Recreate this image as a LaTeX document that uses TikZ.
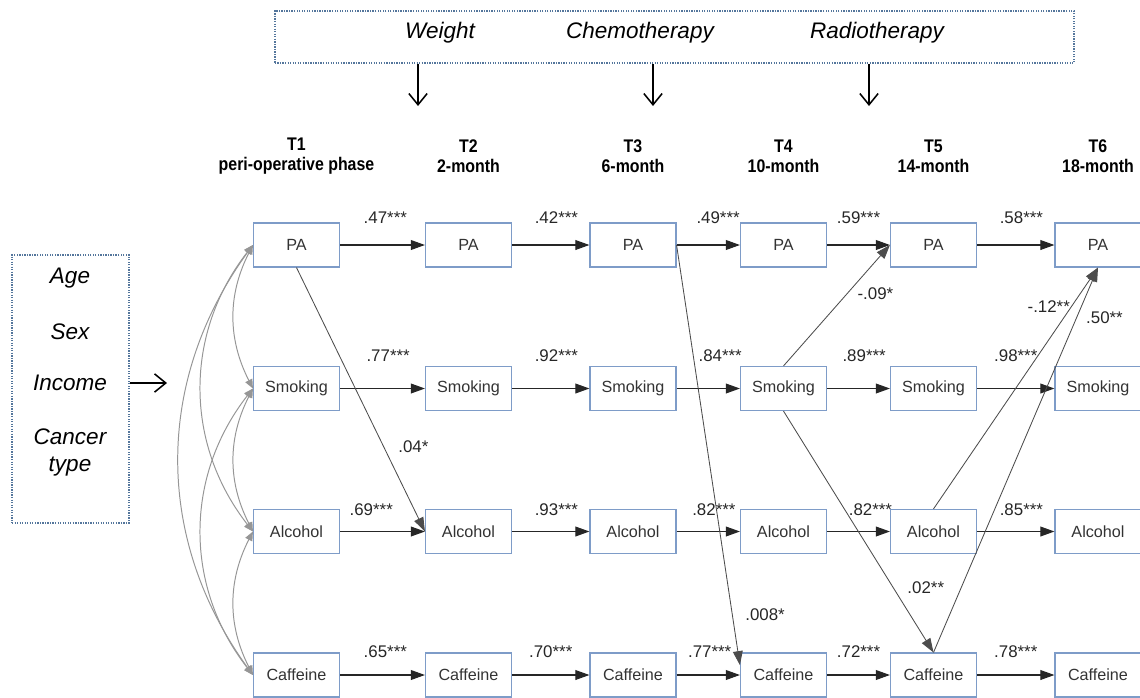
\documentclass[tikz,border=0pt]{standalone}
\usepackage{fontspec}
\setmainfont{Liberation Sans}
\newfontfamily\hdrfont[FakeStretch=0.87]{Liberation Sans}
\usetikzlibrary{arrows.meta}
\definecolor{boxblue}{RGB}{126,156,200}
\definecolor{dotblue}{RGB}{84,118,156}
\definecolor{covgray}{RGB}{150,150,150}

\begin{document}
\begin{tikzpicture}[x=0.025cm,y=0.025cm,every node/.style={font=\fontsize{11.5}{13}\selectfont},
var/.style={draw=boxblue,line width=0.8pt,minimum width=2.15cm,minimum height=1.1cm,inner sep=0pt,text=black!80},
hdr/.style={font=\hdrfont\bfseries\fontsize{13}{14.2}\selectfont,align=center,inner sep=0pt},
cov/.style={font=\itshape\fontsize{16}{18}\selectfont,inner sep=0pt},
dotbox/.style={draw=dotblue,line width=0.9pt,dash pattern=on 0.9pt off 0.9pt,inner sep=0pt},
lbl/.style={font=\fontsize{12}{14}\selectfont,inner sep=1pt,text=black!85},
reg/.style={draw=black!85,line width=0.75pt,-{Triangle[length=10pt,width=7pt]}},
xreg/.style={draw=black!70,line width=0.6pt,-{Triangle[length=10pt,width=7pt]}},
corr/.style={draw=covgray,line width=0.7pt,{Triangle[length=6.5pt,width=5.5pt]}-{Triangle[length=6.5pt,width=5.5pt]}},
effect/.style={draw=black,line width=1.1pt,-{Straight Barb[length=8pt,width=13pt]}}]
\useasboundingbox (0,0) rectangle (1140,-698);

% time-varying covariates
\node[dotbox,minimum width=19.975cm,minimum height=1.3cm] (timebox) at (674.5,-37) {};
\node[cov] (wt) at (440,-33) {Weight};
\node[cov] (chemo) at (640,-33) {Chemotherapy};
\node[cov] (radio) at (877,-33) {Radiotherapy};
\coordinate (wtend) at (418,-106);
\coordinate (chemoend) at (653,-106);
\coordinate (radioend) at (869,-106);
\draw[effect] (wtend |- timebox.south) -- (wtend);
\draw[effect] (chemoend |- timebox.south) -- (chemoend);
\draw[effect] (radioend |- timebox.south) -- (radioend);

% baseline covariates
\node[dotbox,minimum width=2.925cm,minimum height=6.7cm] (ctrlbox) at (70.5,-389) {};
\node[cov] (age) at (70,-278) {Age};
\node[cov] (sex) at (70,-332) {Sex};
\node[cov] (inc) at (70,-383) {Income};
\node[cov] (canc) at (70,-437) {Cancer};
\node[cov] (typ) at (70,-467) {type};
\coordinate (ctrlend) at (167,-383);
\draw[effect] (ctrlbox.east |- ctrlend) -- (ctrlend);

% waves
\node[hdr] (h1) at (296.5,-156) {T1\\peri-operative phase};
\node[hdr] (h2) at (468.5,-156) {T2\\2-month};
\node[hdr] (h3) at (633,-156) {T3\\6-month};
\node[hdr] (h4) at (783.5,-156) {T4\\10-month};
\node[hdr] (h5) at (933.5,-156) {T5\\14-month};
\node[hdr] (h6) at (1098,-156) {T6\\18-month};

% behaviours
\node[var] (pa1) at (296.5,-245) {PA};
\node[var] (pa2) at (468.5,-245) {PA};
\node[var] (pa3) at (633,-245) {PA};
\node[var] (pa4) at (783.5,-245) {PA};
\node[var] (pa5) at (933.5,-245) {PA};
\node[var] (pa6) at (1098,-245) {PA};

\node[var] (sm1) at (296.5,-388.5) {Smoking};
\node[var] (sm2) at (468.5,-388.5) {Smoking};
\node[var] (sm3) at (633,-388.5) {Smoking};
\node[var] (sm4) at (783.5,-388.5) {Smoking};
\node[var] (sm5) at (933.5,-388.5) {Smoking};
\node[var] (sm6) at (1098,-388.5) {Smoking};

\node[var] (al1) at (296.5,-531.5) {Alcohol};
\node[var] (al2) at (468.5,-531.5) {Alcohol};
\node[var] (al3) at (633,-531.5) {Alcohol};
\node[var] (al4) at (783.5,-531.5) {Alcohol};
\node[var] (al5) at (933.5,-531.5) {Alcohol};
\node[var] (al6) at (1098,-531.5) {Alcohol};

\node[var] (cf1) at (296.5,-675) {Caffeine};
\node[var] (cf2) at (468.5,-675) {Caffeine};
\node[var] (cf3) at (633,-675) {Caffeine};
\node[var] (cf4) at (783.5,-675) {Caffeine};
\node[var] (cf5) at (933.5,-675) {Caffeine};
\node[var] (cf6) at (1098,-675) {Caffeine};

% stability paths
\draw[reg] (pa1) -- node[lbl,above=14pt,xshift=2pt] {.47***} (pa2);
\draw[reg] (pa2) -- node[lbl,above=14pt,xshift=4pt] {.42***} (pa3);
\draw[reg] (pa3) -- node[lbl,above=14pt,xshift=7pt] {.49***} (pa4);
\draw[reg] (pa4) -- node[lbl,above=14pt] {.59***} (pa5);
\draw[reg] (pa5) -- node[lbl,above=14pt,xshift=4pt] {.58***} (pa6);

\draw[reg] (sm1) -- node[lbl,above=18pt,xshift=4pt] {.77***} (sm2);
\draw[reg] (sm2) -- node[lbl,above=18pt,xshift=4pt] {.92***} (sm3);
\draw[reg] (sm3) -- node[lbl,above=18pt,xshift=8.5pt] {.84***} (sm4);
\draw[reg] (sm4) -- node[lbl,above=18pt,xshift=4pt] {.89***} (sm5);
\draw[reg] (sm5) -- node[lbl,above=18pt] {.98***} (sm6);

\draw[reg] (al1) -- node[lbl,above=10pt,xshift=-8pt] {.69***} (al2);
\draw[reg] (al2) -- node[lbl,above=10pt,xshift=4pt] {.93***} (al3);
\draw[reg] (al3) -- node[lbl,above=10pt,xshift=4pt] {.82***} (al4);
\draw[reg] (al4) -- node[lbl,above=10pt,xshift=8.5pt] {.82***} (al5);
\draw[reg] (al5) -- node[lbl,above=10pt,xshift=4pt] {.85***} (al6);

\draw[reg] (cf1) -- node[lbl,above=11pt,xshift=2pt] {.65***} (cf2);
\draw[reg] (cf2) -- node[lbl,above=11pt] {.70***} (cf3);
\draw[reg] (cf3) -- node[lbl,above=11pt,xshift=1pt] {.77***} (cf4);
\draw[reg] (cf4) -- node[lbl,above=11pt] {.72***} (cf5);
\draw[reg] (cf5) -- node[lbl,above=11pt] {.78***} (cf6);

% cross-lagged paths
\draw[xreg] (pa1.south) -- node[lbl,pos=0.68,right=9pt] {.04*} (al2.west);
\draw[xreg] (pa3.east) -- node[lbl,pos=0.88,right=8pt] {.008*} ([yshift=7pt]cf4.west);
\draw[xreg] (sm4.north) -- node[lbl,pos=0.6,right=6pt] {-.09*} (pa5.west);
\draw[xreg] (sm4.south) -- node[lbl,pos=0.73,right=9pt] {.02**} (cf5.north);
\draw[xreg] (al5.north) -- node[lbl,pos=0.84,left=0pt] {-.12**} (pa6.south);
\draw[xreg] (cf5.north) -- node[lbl,pos=0.87,right=5.5pt] {.50**} (pa6.south);

% correlations at T1
\draw[corr] (pa1.west) to[bend right=27] (sm1.west);
\draw[corr] (sm1.west) to[bend right=27] (al1.west);
\draw[corr] (al1.west) to[bend right=27] (cf1.west);
\draw[corr] (pa1.west) to[bend right=38] (al1.west);
\draw[corr] (sm1.west) to[bend right=38] (cf1.west);
\draw[corr] (pa1.west) to[bend right=36] (cf1.west);
\end{tikzpicture}
\end{document}
